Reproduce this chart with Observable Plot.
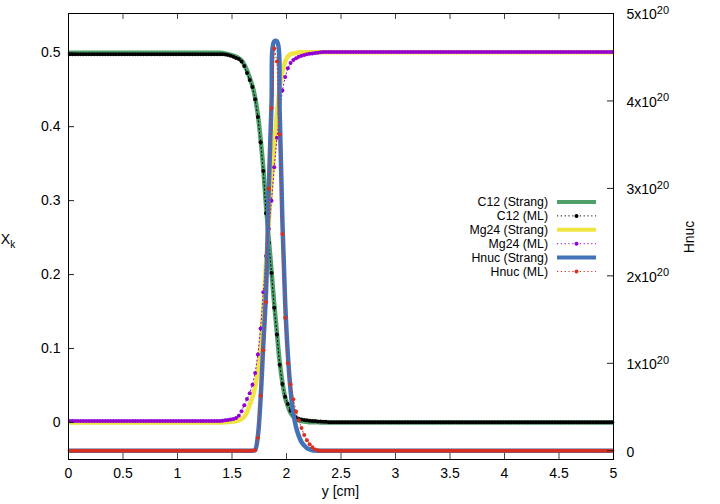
<!DOCTYPE html>
<html><head><meta charset="utf-8">
<script src="https://cdn.jsdelivr.net/npm/d3@7"></script>
<script src="https://cdn.jsdelivr.net/npm/@observablehq/plot@0.6"></script>
<style>
body{margin:0;background:#fff;}
#chart{width:720px;height:504px;}
</style></head><body><div id="chart"></div>
<script>
// ---- data (200 cells, centres 0.0125 ... 4.9875 cm) ----
const c12Strang = [
.5,.5,.5,.5,.5,.5,.5,.5,.5,.5,
.5,.5,.5,.5,.5,.5,.5,.5,.5,.5,
.5,.5,.5,.5,.5,.5,.5,.5,.5,.5,
.5,.5,.5,.5,.5,.5,.5,.5,.5,.5,
.5,.5,.5,.5,.5,.5,.5,.5,.5,.5,
.5,.5,.5,.5,.5,.5,
0.4995,0.499,0.498,0.497,0.496,0.4945,0.4925,0.4895,0.484,0.476,
0.466,0.455,0.439,0.416,0.383,0.343,0.292,0.248,0.205,0.160,
0.120,0.082,0.054,0.034,0.022,0.013,0.008,0.005,0.003,0.002,
0.0015,0.001,0.0005,0.0005,0.0005,0.0005,
0,0,0,0,0,0,0,0,0,0,
0,0,0,0,0,0,0,0,0,0,
0,0,0,0,0,0,0,0,0,0,
0,0,0,0,0,0,0,0,0,0,
0,0,0,0,0,0,0,0,0,0,
0,0,0,0,0,0,0,0,0,0,
0,0,0,0,0,0,0,0,0,0,
0,0,0,0,0,0,0,0,0,0,
0,0,0,0,0,0,0,0,0,0,
0,0,0,0,0,0,0,0,0,0,
0,0,0,0,0,0,0,0
];
const c12ML = [
.498,.498,.498,.498,.498,.498,.498,.498,.498,.498,
.498,.498,.498,.498,.498,.498,.498,.498,.498,.498,
.498,.498,.498,.498,.498,.498,.498,.498,.498,.498,
.498,.498,.498,.498,.498,.498,.498,.498,.498,.498,
.498,.498,.498,.498,.498,.498,.498,.498,.498,.498,
.498,.498,.498,.498,.498,.498,
0.498,0.4975,0.497,0.496,0.4945,0.493,0.4915,0.488,0.482,0.4725,
0.463,0.4535,0.437,0.413,0.379,0.340,0.283,0.243,0.202,0.155,
0.119,0.078,0.052,0.035,0.025,0.016,0.011,0.007,0.005,0.004,
0.0035,0.003,0.0025,0.002,0.002,0.0015,0.0015,0.001,0.001,
.0005,.0005,.0005,.0005,.0005,.0005,.0005,.0005,.0005,.0005,
.0005,.0005,.0005,.0005,.0005,.0005,.0005,.0005,.0005,.0005,
.0005,.0005,.0005,.0005,.0005,.0005,.0005,.0005,.0005,.0005,
.0005,.0005,.0005,.0005,.0005,.0005,.0005,.0005,.0005,.0005,
.0005,.0005,.0005,.0005,.0005,.0005,.0005,.0005,.0005,.0005,
.0005,.0005,.0005,.0005,.0005,.0005,.0005,.0005,.0005,.0005,
.0005,.0005,.0005,.0005,.0005,.0005,.0005,.0005,.0005,.0005,
.0005,.0005,.0005,.0005,.0005,.0005,.0005,.0005,.0005,.0005,
.0005,.0005,.0005,.0005,.0005,.0005,.0005,.0005,.0005,.0005,
.0005,.0005,.0005,.0005,.0005,.0005,.0005,.0005,.0005,.0005,
.0005,.0005,.0005,.0005,.0005
];
const mg24Strang = [
0,0,0,0,0,0,0,0,0,0,
0,0,0,0,0,0,0,0,0,0,
0,0,0,0,0,0,0,0,0,0,
0,0,0,0,0,0,0,0,0,0,
0,0,0,0,0,0,0,0,0,0,
0,0,0,0,0,0,
0.0002,0.0004,0.0006,0.001,0.0012,0.0018,0.003,0.0045,0.008,0.014,
0.024,0.034,0.048,0.069,0.102,0.155,0.216,0.27,0.323,0.373,
0.418,0.452,0.475,0.488,0.495,0.498,0.499,0.4995,
.5005,.5005,.5005,.5005,.5005,.5005,.5005,.5005,.5005,.5005,
.5005,.5005,.5005,.5005,.5005,.5005,.5005,.5005,.5005,.5005,
.5005,.5005,.5005,.5005,.5005,.5005,.5005,.5005,.5005,.5005,
.5005,.5005,.5005,.5005,.5005,.5005,.5005,.5005,.5005,.5005,
.5005,.5005,.5005,.5005,.5005,.5005,.5005,.5005,.5005,.5005,
.5005,.5005,.5005,.5005,.5005,.5005,.5005,.5005,.5005,.5005,
.5005,.5005,.5005,.5005,.5005,.5005,.5005,.5005,.5005,.5005,
.5005,.5005,.5005,.5005,.5005,.5005,.5005,.5005,.5005,.5005,
.5005,.5005,.5005,.5005,.5005,.5005,.5005,.5005,.5005,.5005,
.5005,.5005,.5005,.5005,.5005,.5005,.5005,.5005,.5005,.5005,
.5005,.5005,.5005,.5005,.5005,.5005,.5005,.5005,.5005,.5005,
.5005,.5005,.5005,.5005,.5005,.5005
];
const mg24ML = [
.002,.002,.002,.002,.002,.002,.002,.002,.002,.002,
.002,.002,.002,.002,.002,.002,.002,.002,.002,.002,
.002,.002,.002,.002,.002,.002,.002,.002,.002,.002,
.002,.002,.002,.002,.002,.002,.002,.002,.002,.002,
.002,.002,.002,.002,.002,.002,.002,.002,.002,.002,
.002,.002,.002,.002,.002,.002,
0.0025,0.003,0.0035,0.004,0.0047,0.0062,0.0093,0.0153,0.0235,0.0318,
0.0395,0.051,0.067,0.092,0.127,0.176,0.225,0.262,0.300,0.345,
0.385,0.418,0.449,0.467,0.479,0.486,0.490,0.4925,0.4945,0.496,
0.497,0.498,0.4985,0.499,0.4995,0.500,0.5005,
.501,.501,.501,.501,.501,.501,.501,.501,.501,.501,
.501,.501,.501,.501,.501,.501,.501,.501,.501,.501,
.501,.501,.501,.501,.501,.501,.501,.501,.501,.501,
.501,.501,.501,.501,.501,.501,.501,.501,.501,.501,
.501,.501,.501,.501,.501,.501,.501,.501,.501,.501,
.501,.501,.501,.501,.501,.501,.501,.501,.501,.501,
.501,.501,.501,.501,.501,.501,.501,.501,.501,.501,
.501,.501,.501,.501,.501,.501,.501,.501,.501,.501,
.501,.501,.501,.501,.501,.501,.501,.501,.501,.501,
.501,.501,.501,.501,.501,.501,.501,.501,.501,.501,
.501,.501,.501,.501,.501,.501,.501
];
// Hnuc in units of 1e20
const hnucStrang = [
0,0,0,0,0,0,0,0,0,0,
0,0,0,0,0,0,0,0,0,0,
0,0,0,0,0,0,0,0,0,0,
0,0,0,0,0,0,0,0,0,0,
0,0,0,0,0,0,0,0,0,0,
0,0,0,0,0,0,0,0,0,0,
0,0,0,0,0,0,0,0,
0.01,0.17,0.6,1.22,1.82,3.0,3.97,4.68,4.68,3.87,
2.62,1.7,1.1,0.69,0.43,0.27,0.17,0.10,0.06,0.03,
0.015,0.006,0.002,
0,0,0,0,0,0,0,0,0,0,
0,0,0,0,0,0,0,0,0,0,
0,0,0,0,0,0,0,0,0,0,
0,0,0,0,0,0,0,0,0,0,
0,0,0,0,0,0,0,0,0,0,
0,0,0,0,0,0,0,0,0,0,
0,0,0,0,0,0,0,0,0,0,
0,0,0,0,0,0,0,0,0,0,
0,0,0,0,0,0,0,0,0,0,
0,0,0,0,0,0,0,0,0,0,
0,0,0,0,0,0,0,0,0
];
const hnucML = [
0,0,0,0,0,0,0,0,0,0,
0,0,0,0,0,0,0,0,0,0,
0,0,0,0,0,0,0,0,0,0,
0,0,0,0,0,0,0,0,0,0,
0,0,0,0,0,0,0,0,0,0,
0,0,0,0,0,0,0,0,0,0,
0,0,0,0,0,0,0,0,
0.005,0.15,0.63,1.15,1.70,3.0,3.92,4.60,4.45,3.62,
2.48,1.52,1.0,0.76,0.59,0.45,0.35,0.26,0.18,0.12,
0.075,0.04,0.015,0.005,
0,0,0,0,0,0,0,0,0,0,
0,0,0,0,0,0,0,0,0,0,
0,0,0,0,0,0,0,0,0,0,
0,0,0,0,0,0,0,0,0,0,
0,0,0,0,0,0,0,0,0,0,
0,0,0,0,0,0,0,0,0,0,
0,0,0,0,0,0,0,0,0,0,
0,0,0,0,0,0,0,0,0,0,
0,0,0,0,0,0,0,0,0,0,
0,0,0,0,0,0,0,0,0,0,
0,0,0,0,0,0,0,0
];
const cellWidth = 0.025; // cm, uniform grid
const xTicks = [0,0.5,1,1.5,2,2.5,3,3.5,4,4.5,5];
const xkTicks = [0,0.1,0.2,0.3,0.4,0.5];
const hnucTicks = [0,1,2,3,4,5];
const hnucTickLabels = ["0","1x10^20","2x10^20","3x10^20","4x10^20","5x10^20"];
const seriesNames = ["C12 (Strang)","C12 (ML)","Mg24 (Strang)","Mg24 (ML)","Hnuc (Strang)","Hnuc (ML)"];
const seriesColors = ["#4f9f6b","#000000","#f0e442","#9400d3","#4272b8","#d9301f"];
const seriesIsML = [false,true,false,true,false,true];

// ---- scales ----
const X_DOMAIN = [-0.05, 0.553];
const H_DOMAIN = [-0.1, 5.0];
const toX = h => X_DOMAIN[0] + (h - H_DOMAIN[0]) / (H_DOMAIN[1] - H_DOMAIN[0]) * (X_DOMAIN[1] - X_DOMAIN[0]);

const rows = c12ML.map((v, i) => ({
  y: (i + 0.5) * cellWidth,
  c12S: c12Strang[i], c12M: c12ML[i],
  mgS: mg24Strang[i], mgM: mg24ML[i],
  hS: toX(hnucStrang[i]), hM: toX(hnucML[i])
}));

const W = 720, H = 504, mL = 68, mR = 107, mT = 13, mB = 45;
const txLen = 6 * 5 / (W - mL - mR);
const tyLen = 6 * (X_DOMAIN[1] - X_DOMAIN[0]) / (H - mT - mB);
const hTickPos = hnucTicks.map(toX);
const labelFor = d => { const i = hTickPos.findIndex(p => Math.abs(p - d) < 1e-9); return i >= 0 ? hnucTickLabels[i] : ""; };

const keys = ["c12S","c12M","mgS","mgM","hS","hM"];
const seriesMarks = [];
keys.forEach((k, j) => {
  if (!seriesIsML[j]) {
    seriesMarks.push(Plot.line(rows, {x: "y", y: k, stroke: seriesColors[j], strokeWidth: 4.5, curve: "catmull-rom"}));
  } else {
    seriesMarks.push(Plot.line(rows, {x: "y", y: k, stroke: seriesColors[j], strokeWidth: 1, strokeDasharray: "1.2,2.6"}));
    seriesMarks.push(Plot.dot(rows, {x: "y", y: k, r: 2, fill: seriesColors[j], stroke: "none"}));
  }
});

const chart = Plot.plot({
  width: W, height: H,
  marginLeft: mL, marginRight: mR, marginTop: mT, marginBottom: mB,
  style: {fontFamily: "'Liberation Sans', Arial, sans-serif", fontSize: "14px", background: "#fff", overflow: "visible"},
  x: {domain: [0, 5]},
  y: {domain: X_DOMAIN},
  marks: [
    ...seriesMarks,
    Plot.ruleX(xTicks, {y1: X_DOMAIN[0], y2: X_DOMAIN[0] + tyLen, stroke: "#444"}),
    Plot.ruleX(xTicks, {y1: X_DOMAIN[1], y2: X_DOMAIN[1] - tyLen, stroke: "#444"}),
    Plot.ruleY(xkTicks, {x1: 0, x2: txLen, stroke: "#222"}),
    Plot.ruleY(hTickPos, {x1: 5 - txLen, x2: 5, stroke: "#222"}),
    Plot.axisX(xTicks, {tickSize: 0, tickPadding: 9, tickFormat: d => String(d), label: null, fontSize: 14}),
    Plot.axisY(xkTicks, {anchor: "left", tickSize: 0, tickPadding: 8, tickFormat: d => String(d), label: null, fontSize: 14}),
    Plot.axisY(hTickPos, {anchor: "right", tickSize: 0, tickPadding: 13, tickFormat: labelFor, label: null, fontSize: 14, dy: 1.5}),
    Plot.frame({stroke: "black", strokeWidth: 1})
  ]
});
document.getElementById("chart").appendChild(chart);

const svg = d3.select(chart);
// superscripts on right axis
svg.selectAll("text").each(function () {
  const t = this.textContent;
  if (t.includes("^")) {
    const [base, exp] = t.split("^");
    const s = d3.select(this);
    s.selectAll("*").remove();
    s.text(null);
    s.append("tspan").text(base);
    s.append("tspan").attr("dy", "-0.5em").attr("font-size", "11px").text(exp);
  }
});

// axis titles
const g = svg.append("g").attr("font-family", "'Liberation Sans', Arial, sans-serif").attr("font-size", 14).attr("fill", "black");
const xk = g.append("text").attr("x", 8).attr("y", 244);
xk.append("tspan").text("X");
xk.append("tspan").attr("dy", 4).attr("font-size", 10).text("k");
g.append("text").attr("transform", "translate(694,237) rotate(-90)").attr("text-anchor", "middle").text("Hnuc");
g.append("text").attr("x", 340.5).attr("y", 496).attr("text-anchor", "middle").text("y [cm]");

// legend
const lg = svg.append("g").attr("font-family", "'Liberation Sans', Arial, sans-serif").attr("font-size", 12.3);
seriesNames.forEach((name, i) => {
  const yy = 202 + i * 13.9;
  lg.append("text").attr("x", 548).attr("y", yy).attr("dy", "0.35em").attr("text-anchor", "end").attr("fill", "black").text(name);
  if (!seriesIsML[i]) {
    lg.append("line").attr("x1", 557).attr("x2", 596).attr("y1", yy).attr("y2", yy).attr("stroke", seriesColors[i]).attr("stroke-width", 4);
  } else {
    lg.append("line").attr("x1", 557).attr("x2", 596).attr("y1", yy).attr("y2", yy).attr("stroke", seriesColors[i]).attr("stroke-width", 1).attr("stroke-dasharray", "1.2,2.6");
    lg.append("circle").attr("cx", 576.5).attr("cy", yy).attr("r", 2).attr("fill", seriesColors[i]);
  }
});
</script>
</body></html>
